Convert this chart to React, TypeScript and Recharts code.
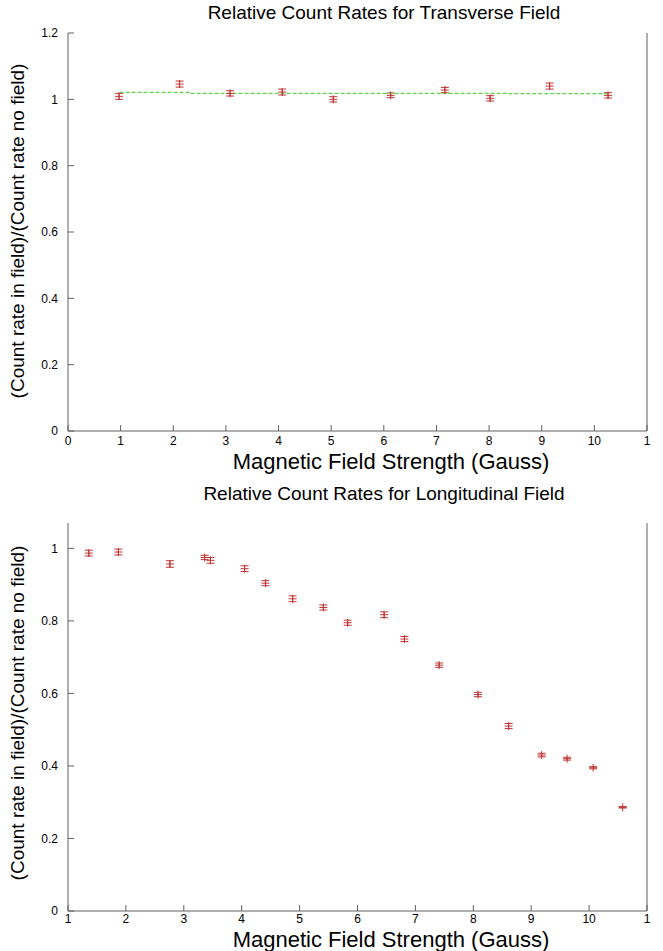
import { ScatterChart, Scatter, XAxis, YAxis, ErrorBar } from "recharts";

// transverse field
const transX = [0.97, 2.12, 3.08, 4.07, 5.04, 6.13, 7.16, 8.02, 9.15, 10.26];
const transY = [1.009, 1.046, 1.018, 1.022, 1.0, 1.012, 1.028, 1.003, 1.04, 1.012];
const transErr = [0.009, 0.009, 0.008, 0.009, 0.008, 0.007, 0.008, 0.008, 0.009, 0.008];
const fitX = [0.98, 2.32, 2.32, 8.33, 8.33, 10.3];
const fitY = [1.021, 1.021, 1.018, 1.018, 1.017, 1.017];

// longitudinal field
const longX = [1.36, 1.87, 2.76, 3.36, 3.46, 4.05, 4.41, 4.88, 5.41, 5.83, 6.46, 6.81, 7.41, 8.08, 8.61, 9.18, 9.62, 10.07, 10.58];
const longY = [0.987, 0.99, 0.957, 0.975, 0.967, 0.944, 0.904, 0.861, 0.837, 0.795, 0.817, 0.75, 0.678, 0.597, 0.51, 0.43, 0.42, 0.395, 0.286];
const longErr = [0.008, 0.008, 0.009, 0.006, 0.008, 0.008, 0.007, 0.008, 0.007, 0.007, 0.008, 0.007, 0.006, 0.006, 0.007, 0.005, 0.004, 0.003, 0.002];

const topXTicks = [0, 1, 2, 3, 4, 5, 6, 7, 8, 9, 10, 11];
const topXLabels = ["0", "1", "2", "3", "4", "5", "6", "7", "8", "9", "10", "1"];
const topYTicks = [0, 0.2, 0.4, 0.6, 0.8, 1, 1.2];
const botXTicks = [1, 2, 3, 4, 5, 6, 7, 8, 9, 10, 11];
const botXLabels = ["1", "2", "3", "4", "5", "6", "7", "8", "9", "10", "1"];
const botYTicks = [0, 0.2, 0.4, 0.6, 0.8, 1];

const titles = ["Relative Count Rates for Transverse Field", "Relative Count Rates for Longitudinal Field"];
const xTitle = "Magnetic Field Strength (Gauss)";
const yTitle = "(Count rate in field)/(Count rate no field)";

const RED = "#c03434";
const AXIS = "#606060";
const FONT = "'Liberation Sans', Arial, sans-serif";

const toPoints = (xs: number[], ys: number[], errs?: number[]) =>
  xs.map((x, i) => ({ x, y: ys[i], err: errs ? errs[i] : 0 }));

const Plus = (p: any) => (
  <g stroke={RED} strokeWidth={1}>
    <line x1={p.cx - 4} y1={p.cy} x2={p.cx + 4} y2={p.cy} />
    <line x1={p.cx} y1={p.cy - 4} x2={p.cx} y2={p.cy + 4} />
  </g>
);

const fmt = (v: number) => String(v);
const tickStyle = { fill: "#000", fontSize: 12, fontFamily: FONT };

function Panel(props: {
  height: number;
  top: number;
  xAxisH: number;
  xTickMargin: number;
  xDomain: [number, number];
  yDomain: [number, number];
  xTicks: number[];
  xLabels: string[];
  yTicks: number[];
  points: { x: number; y: number; err: number }[];
  fit?: { x: number; y: number }[];
}) {
  const { height, top, xAxisH, xTickMargin, xDomain, yDomain, xTicks, xLabels, yTicks, points, fit } = props;
  return (
    <ScatterChart width={663} height={height} margin={{ top, right: 8, left: 0, bottom: 0 }}>
      <XAxis
        xAxisId="b"
        type="number"
        dataKey="x"
        domain={xDomain}
        ticks={xTicks}
        tickFormatter={(v: number) => xLabels[xTicks.indexOf(v)]}
        height={xAxisH}
        tickSize={-6}
        tickMargin={xTickMargin}
        stroke={AXIS}
        tick={tickStyle}
        interval={0}
        allowDataOverflow
      />
      <XAxis
        xAxisId="t"
        orientation="top"
        type="number"
        dataKey="x"
        domain={xDomain}
        ticks={xTicks}
        height={0}
        tickSize={-6}
        tick={false}
        stroke={AXIS}
        interval={0}
        allowDataOverflow
      />
      <YAxis
        yAxisId="l"
        type="number"
        dataKey="y"
        domain={yDomain}
        ticks={yTicks}
        tickFormatter={fmt}
        width={68}
        tickSize={-6}
        tickMargin={16}
        stroke={AXIS}
        tick={tickStyle}
        interval={0}
        allowDataOverflow
      />
      <YAxis
        yAxisId="r"
        orientation="right"
        type="number"
        dataKey="y"
        domain={yDomain}
        ticks={yTicks}
        width={8}
        tickSize={-6}
        tick={false}
        stroke={AXIS}
        interval={0}
        allowDataOverflow
      />
      {fit && (
        <Scatter
          xAxisId="b"
          yAxisId="l"
          data={fit}
          line={{ stroke: "#5fd44a", strokeWidth: 1.2, strokeDasharray: "4 2" }}
          shape={() => <g />}
          isAnimationActive={false}
        />
      )}
      <Scatter xAxisId="b" yAxisId="l" data={points} shape={Plus} isAnimationActive={false}>
        <ErrorBar dataKey="err" direction="y" width={4} stroke={RED} strokeWidth={1} isAnimationActive={false} />
      </Scatter>
    </ScatterChart>
  );
}

const textBase: React.CSSProperties = {
  position: "absolute",
  fontFamily: FONT,
  color: "#000",
  whiteSpace: "nowrap",
  lineHeight: 1,
};

function Titles({ offset, xLabelTop, titleTop, yCenter }: { offset: number; xLabelTop: number; titleTop: number; yCenter: number }) {
  return (
    <>
      <div style={{ ...textBase, top: offset + titleTop, left: 384, transform: "translateX(-50%)", fontSize: 19 }}>
        {offset === 0 ? titles[0] : titles[1]}
      </div>
      <div style={{ ...textBase, top: offset + xLabelTop, left: 391, transform: "translateX(-50%)", fontSize: 22 }}>
        {xTitle}
      </div>
      <div
        style={{
          ...textBase,
          top: offset + yCenter,
          left: 17,
          transform: "translate(-50%, -50%) rotate(-90deg)",
          fontSize: 19,
        }}
      >
        {yTitle}
      </div>
    </>
  );
}

export default function App() {
  return (
    <div style={{ position: "absolute", left: 0, top: 0, width: 663, height: 951, background: "#fff", overflow: "hidden" }}>
      <div style={{ position: "absolute", left: 0, top: 0 }}>
        <Panel
          height={480}
          top={33}
          xAxisH={49}
          xTickMargin={11}
          xDomain={[0, 11]}
          yDomain={[0, 1.2]}
          xTicks={topXTicks}
          xLabels={topXLabels}
          yTicks={topYTicks}
          points={toPoints(transX, transY, transErr)}
          fit={toPoints(fitX, fitY)}
        />
      </div>
      <div style={{ position: "absolute", left: 0, top: 480 }}>
        <Panel
          height={471}
          top={43}
          xAxisH={40}
          xTickMargin={9}
          xDomain={[1, 11]}
          yDomain={[0, 1.07]}
          xTicks={botXTicks}
          xLabels={botXLabels}
          yTicks={botYTicks}
          points={toPoints(longX, longY, longErr)}
        />
      </div>
      <Titles offset={0} titleTop={3} xLabelTop={451} yCenter={231} />
      <Titles offset={480} titleTop={4} xLabelTop={449} yCenter={233} />
    </div>
  );
}
